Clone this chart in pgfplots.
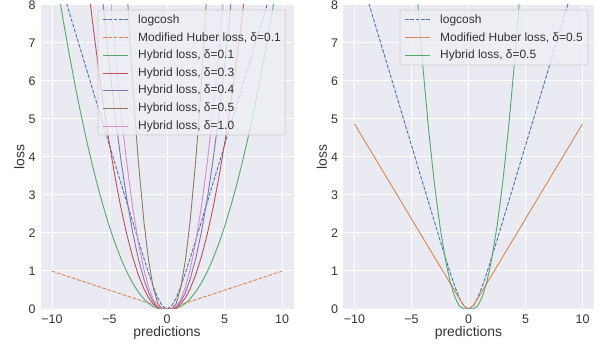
\documentclass[border=0pt]{standalone}
\usepackage{fontspec}
\setmainfont{Liberation Sans}
\usepackage{pgfplots}
\pgfplotsset{compat=1.18}
\definecolor{bg}{HTML}{EAEAF2}
\definecolor{legbg}{HTML}{EEEEF5}
\definecolor{tickgray}{HTML}{333333}
\definecolor{sblue}{HTML}{4C72B0}
\definecolor{sorange}{HTML}{DD8452}
\definecolor{sgreen}{HTML}{55A868}
\definecolor{sred}{HTML}{C44E52}
\definecolor{spurple}{HTML}{8172B3}
\definecolor{sbrown}{HTML}{937860}
\definecolor{spink}{HTML}{DA8BC3}
\pgfplotsset{myaxis/.style={
  scale only axis, height=304bp,
  xmin=-11, xmax=11, ymin=0, ymax=8,
  axis background/.style={fill=bg},
  axis line style={draw=none},
  major tick length=0pt,
  grid=major, major grid style={white, line width=1bp},
  xtick={-10,-5,0,5,10}, xticklabels={−10,−5,0,5,10},
  ytick={0,1,2,3,4,5,6,7,8}, yticklabels={0,1,2,3,4,5,6,7,8},
  tick label style={font=\fontsize{12.5}{14}\selectfont, text=tickgray},
  xticklabel style={yshift=-2bp},
  yticklabel style={xshift=-1.5bp},
  label style={font=\fontsize{14}{16}\selectfont, text=tickgray},
  xlabel=predictions, ylabel=loss,
  xlabel style={at={(axis description cs:0.5,0)}, anchor=base, yshift=-27.5bp},
  ylabel style={at={([xshift=-21bp]axis description cs:0,0.5)}, anchor=center},
  every axis plot/.append style={line width=0.9bp},
  dsh/.style={dash pattern=on 3.7bp off 1.6bp},
}}
\tikzset{legtxt/.style={anchor=west, inner sep=0pt, font=\fontsize{12}{14}\selectfont, text=tickgray},
  legline/.style={line width=1bp},
  ldsh/.style={dash pattern=on 3.7bp off 1.6bp}}
\begin{document}
\begin{tikzpicture}
\begin{axis}[myaxis, name=L, width=253bp]
\addplot[draw=sblue, dsh] coordinates {(-9,8.3069)(-8.5,7.8069)(-8,7.3069)(-7.5,6.8069)(-7,6.3069)(-6.5,5.8069)(-6,5.3069)(-5.5,4.8070)(-5,4.3070)(-4.5,3.8071)(-4,3.3072)(-3.5,2.8078)(-3,2.3093)(-2.5,1.8136)(-2,1.3250)(-1.6,0.9468)(-1.2,0.5937)(-0.8,0.2908)(-0.4,0.0780)(0,0)(0.4,0.0780)(0.8,0.2908)(1.2,0.5937)(1.6,0.9468)(2,1.3250)(2.5,1.8136)(3,2.3093)(3.5,2.8078)(4,3.3072)(4.5,3.8071)(5,4.3070)(5.5,4.8070)(6,5.3069)(6.5,5.8069)(7,6.3069)(7.5,6.8069)(8,7.3069)(8.5,7.8069)(9,8.3069)};
\addplot[draw=sorange, dsh] coordinates {(-10,0.995)(-0.1,0.005)(0,0)(0.1,0.005)(10,0.995)};
\addplot[draw=sgreen] coordinates {(-10,9.410)(-9.5,8.455)(-9,7.551)(-8.5,6.699)(-8,5.897)(-7.5,5.147)(-7,4.447)(-6.5,3.799)(-6,3.202)(-5.5,2.656)(-5,2.160)(-4.5,1.716)(-4,1.323)(-3.5,0.981)(-3,0.690)(-2.5,0.450)(-2,0.261)(-1.6,0.147)(-1.2,0.065)(-0.8,0.016)(-0.4,0)(0,0)(0.4,0)(0.8,0.016)(1.2,0.065)(1.6,0.147)(2,0.261)(2.5,0.450)(3,0.690)(3.5,0.981)(4,1.323)(4.5,1.716)(5,2.160)(5.5,2.656)(6,3.202)(6.5,3.799)(7,4.447)(7.5,5.147)(8,5.897)(8.5,6.699)(9,7.551)(9.5,8.455)(10,9.410)};
\addplot[draw=sred] coordinates {(-7,8.921)(-6.5,7.621)(-6,6.423)(-5.5,5.327)(-5,4.334)(-4.5,3.443)(-4,2.654)(-3.5,1.968)(-3,1.384)(-2.5,0.903)(-2,0.524)(-1.6,0.295)(-1.2,0.131)(-0.8,0.033)(-0.4,0)(0,0)(0.4,0)(0.8,0.033)(1.2,0.131)(1.6,0.295)(2,0.524)(2.5,0.903)(3,1.384)(3.5,1.968)(4,2.654)(4.5,3.443)(5,4.334)(5.5,5.327)(6,6.423)(6.5,7.621)(7,8.921)};
\addplot[draw=spurple] coordinates {(-6,9.458)(-5.5,7.845)(-5,6.382)(-4.5,5.070)(-4,3.909)(-3.5,2.898)(-3,2.039)(-2.5,1.330)(-2,0.772)(-1.6,0.434)(-1.2,0.193)(-0.8,0.048)(-0.4,0)(0,0)(0.4,0)(0.8,0.048)(1.2,0.193)(1.6,0.434)(2,0.772)(2.5,1.330)(3,2.039)(3.5,2.898)(4,3.909)(4.5,5.070)(5,6.382)(5.5,7.845)(6,9.458)};
\addplot[draw=sbrown] coordinates {(-3.5,8.543)(-3.25,7.220)(-3,6.009)(-2.75,4.910)(-2.5,3.920)(-2,2.276)(-1.6,1.280)(-1.2,0.569)(-0.8,0.142)(-0.4,0)(0,0)(0.4,0)(0.8,0.142)(1.2,0.569)(1.6,1.280)(2,2.276)(2.5,3.920)(2.75,4.910)(3,6.009)(3.25,7.220)(3.5,8.543)};
\addplot[draw=spink] coordinates {(-5,8.472)(-4.5,6.731)(-4,5.189)(-3.5,3.848)(-3,2.707)(-2.5,1.766)(-2,1.025)(-1.6,0.577)(-1.2,0.256)(-0.8,0.064)(-0.4,0)(0,0)(0.4,0)(0.8,0.064)(1.2,0.256)(1.6,0.577)(2,1.025)(2.5,1.766)(3,2.707)(3.5,3.848)(4,5.189)(4.5,6.731)(5,8.472)};
\end{axis}
\begin{axis}[myaxis, name=R, width=251bp, at={(L.south east)}, anchor=south west, xshift=49.5bp]
\addplot[draw=sblue, dsh] coordinates {(-9,8.3069)(-8.5,7.8069)(-8,7.3069)(-7.5,6.8069)(-7,6.3069)(-6.5,5.8069)(-6,5.3069)(-5.5,4.8070)(-5,4.3070)(-4.5,3.8071)(-4,3.3072)(-3.5,2.8078)(-3,2.3093)(-2.5,1.8136)(-2,1.3250)(-1.6,0.9468)(-1.2,0.5937)(-0.8,0.2908)(-0.4,0.0780)(0,0)(0.4,0.0780)(0.8,0.2908)(1.2,0.5937)(1.6,0.9468)(2,1.3250)(2.5,1.8136)(3,2.3093)(3.5,2.8078)(4,3.3072)(4.5,3.8071)(5,4.3070)(5.5,4.8070)(6,5.3069)(6.5,5.8069)(7,6.3069)(7.5,6.8069)(8,7.3069)(8.5,7.8069)(9,8.3069)};
\addplot[draw=sorange] coordinates {(-10,4.875)(-0.5,0.125)(-0.25,0.03125)(0,0)(0.25,0.03125)(0.5,0.125)(10,4.875)};
\addplot[draw=sgreen] coordinates {(-4.5,8.281)(-4,6.384)(-3.5,4.734)(-3,3.330)(-2.5,2.172)(-2,1.261)(-1.6,0.709)(-1.2,0.315)(-0.8,0.079)(-0.4,0)(0,0)(0.4,0)(0.8,0.079)(1.2,0.315)(1.6,0.709)(2,1.261)(2.5,2.172)(3,3.330)(3.5,4.734)(4,6.384)(4.5,8.281)};
\end{axis}
% legend of the left axis
\begin{scope}[shift={(L.north west)}]
\fill[legbg, fill opacity=0.8, rounded corners=2bp] (57.5bp,-5bp) rectangle (244.5bp,-130bp);
\draw[white!80!black, rounded corners=2bp, line width=0.6bp] (57.5bp,-5bp) rectangle (244.5bp,-130bp);
\draw[sblue, legline, ldsh] (62.5bp,-15bp) -- (87.5bp,-15bp);
\node[legtxt] at (97.5bp,-15bp) {logcosh};
\draw[sorange, legline, ldsh] (62.5bp,-32.7bp) -- (87.5bp,-32.7bp);
\node[legtxt] at (97.5bp,-32.7bp) {Modified Huber loss, δ=0.1};
\draw[sgreen, legline] (62.5bp,-50.4bp) -- (87.5bp,-50.4bp);
\node[legtxt] at (97.5bp,-50.4bp) {Hybrid loss, δ=0.1};
\draw[sred, legline] (62.5bp,-68.1bp) -- (87.5bp,-68.1bp);
\node[legtxt] at (97.5bp,-68.1bp) {Hybrid loss, δ=0.3};
\draw[spurple, legline] (62.5bp,-85.8bp) -- (87.5bp,-85.8bp);
\node[legtxt] at (97.5bp,-85.8bp) {Hybrid loss, δ=0.4};
\draw[sbrown, legline] (62.5bp,-103.5bp) -- (87.5bp,-103.5bp);
\node[legtxt] at (97.5bp,-103.5bp) {Hybrid loss, δ=0.5};
\draw[spink, legline] (62.5bp,-121.2bp) -- (87.5bp,-121.2bp);
\node[legtxt] at (97.5bp,-121.2bp) {Hybrid loss, δ=1.0};
\end{scope}
% legend of the right axis
\begin{scope}[shift={(R.north west)}]
\fill[legbg, fill opacity=0.8, rounded corners=2bp] (57bp,-5bp) rectangle (245bp,-60bp);
\draw[white!80!black, rounded corners=2bp, line width=0.6bp] (57bp,-5bp) rectangle (245bp,-60bp);
\draw[sblue, legline, ldsh] (62bp,-15bp) -- (87bp,-15bp);
\node[legtxt] at (97bp,-15bp) {logcosh};
\draw[sorange, legline] (62bp,-32.7bp) -- (87bp,-32.7bp);
\node[legtxt] at (97bp,-32.7bp) {Modified Huber loss, δ=0.5};
\draw[sgreen, legline] (62bp,-50.4bp) -- (87bp,-50.4bp);
\node[legtxt] at (97bp,-50.4bp) {Hybrid loss, δ=0.5};
\end{scope}
\pgfresetboundingbox
\useasboundingbox ([shift={(-40.5bp,-36bp)}]L.south west) rectangle ([shift={(6bp,5bp)}]R.north east);
\end{tikzpicture}
\end{document}
